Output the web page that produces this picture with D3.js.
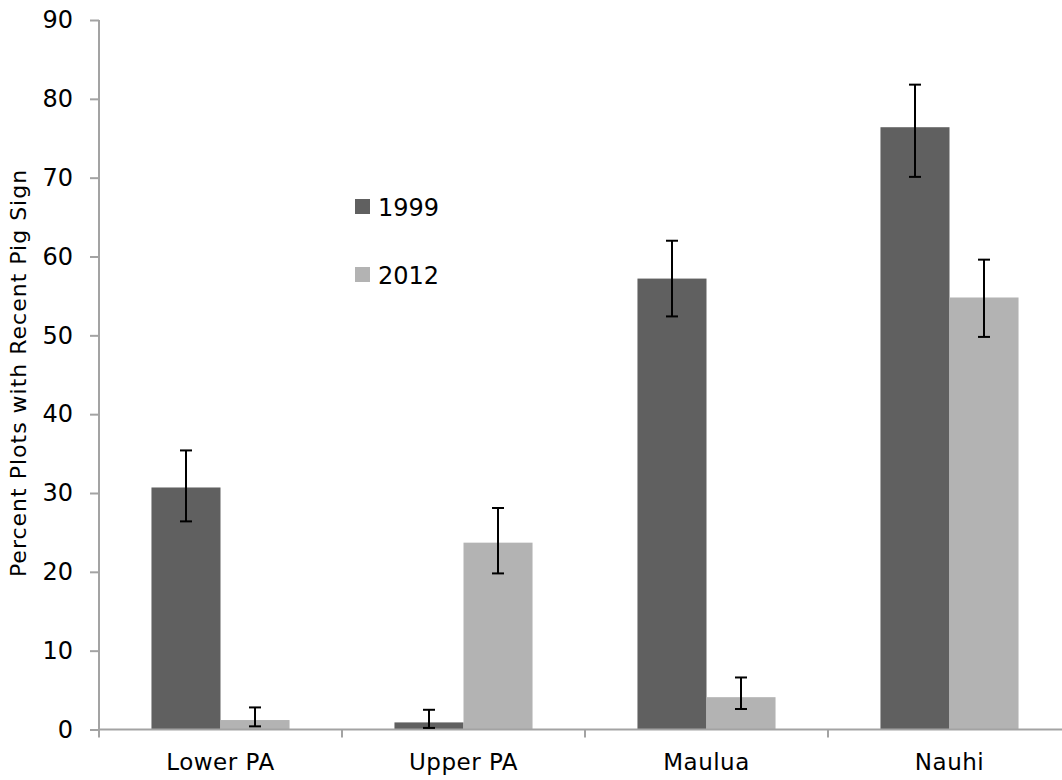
<!DOCTYPE html>
<html>
<head>
<meta charset="utf-8">
<script src="https://cdn.jsdelivr.net/npm/d3@7"></script>
<style>
  html, body { margin: 0; padding: 0; background: #ffffff; }
  svg { display: block; }
  text { font-family: "DejaVu Sans", Verdana, sans-serif; fill: #000; }
</style>
</head>
<body>
<svg id="chart" width="1062" height="780"></svg>
<script>
// Sites and survey years
const sites = ["Lower PA", "Upper PA", "Maulua", "Nauhi"];
const years = ["1999", "2012"];

// Percent of plots with recent pig sign, per year (site order as above)
const values1999 = [30.7, 0.9, 57.2, 76.4];
const values2012 = [1.2, 23.7, 4.1, 54.8];

// Error bar bounds (lower, upper)
const errLow1999  = [26.4, 0.2, 52.4, 70.1];
const errHigh1999 = [35.4, 2.5, 62.0, 81.8];
const errLow2012  = [0.4, 19.8, 2.6, 49.8];
const errHigh2012 = [2.8, 28.1, 6.6, 59.6];

const yTicks = [0, 10, 20, 30, 40, 50, 60, 70, 80, 90];
const yTitle = "Percent Plots with Recent Pig Sign";

const colors = { "1999": "#606060", "2012": "#b3b3b3" };
const axisColor = "#a3a3a3";

const svg = d3.select("#chart");

const plotLeft = 99, plotRight = 1071, plotTop = 20, plotBottom = 729.5;

const x = d3.scaleBand().domain(sites).range([plotLeft, plotRight]).paddingInner(0).paddingOuter(0);
const inner = d3.scaleBand().domain(years).range([0, x.bandwidth()]).paddingInner(0).paddingOuter(0.76);
const y = d3.scaleLinear().domain([0, 90]).range([plotBottom, plotTop]);

const rows = [];
sites.forEach((s, i) => {
  rows.push({ site: s, year: "1999", v: values1999[i], lo: errLow1999[i], hi: errHigh1999[i] });
  rows.push({ site: s, year: "2012", v: values2012[i], lo: errLow2012[i], hi: errHigh2012[i] });
});

// Bars
svg.append("g").selectAll("rect").data(rows).join("rect")
  .attr("x", d => x(d.site) + inner(d.year))
  .attr("width", inner.bandwidth())
  .attr("y", d => y(d.v))
  .attr("height", d => y(0) - y(d.v))
  .attr("fill", d => colors[d.year]);

// Y axis
const yAxis = svg.append("g").attr("transform", `translate(${plotLeft},0)`)
  .call(d3.axisLeft(y).tickValues(yTicks).tickSize(9).tickPadding(17));
yAxis.select(".domain").remove();
yAxis.selectAll(".tick line").attr("stroke", axisColor).attr("stroke-width", 2);
yAxis.selectAll(".tick text").attr("font-size", 24).attr("fill", "#000")
  .attr("font-family", "DejaVu Sans, Verdana, sans-serif");
svg.append("line").attr("x1", plotLeft).attr("x2", plotLeft).attr("y1", plotTop).attr("y2", plotBottom + 8)
  .attr("stroke", axisColor).attr("stroke-width", 2);

// X axis
const xAxis = svg.append("g").attr("transform", `translate(0,${plotBottom})`)
  .call(d3.axisBottom(x).tickSize(0).tickPadding(24));
xAxis.select(".domain").remove();
xAxis.selectAll(".tick line").remove();
xAxis.selectAll(".tick text").attr("font-size", 23).attr("fill", "#000")
  .attr("letter-spacing", 0.5)
  .attr("font-family", "DejaVu Sans, Verdana, sans-serif");
svg.append("line").attr("x1", plotLeft).attr("x2", plotRight).attr("y1", plotBottom).attr("y2", plotBottom)
  .attr("stroke", axisColor).attr("stroke-width", 2);
svg.append("g").selectAll("line").data(sites.slice(1)).join("line")
  .attr("x1", d => x(d))
  .attr("x2", d => x(d))
  .attr("y1", plotBottom).attr("y2", plotBottom + 8)
  .attr("stroke", axisColor).attr("stroke-width", 2);

// Error bars
const eb = svg.append("g").attr("stroke", "#000").attr("stroke-width", 2);
rows.forEach(d => {
  const cx = x(d.site) + inner(d.year) + inner.bandwidth() / 2;
  eb.append("line").attr("x1", cx).attr("x2", cx).attr("y1", y(d.lo)).attr("y2", y(d.hi));
  eb.append("line").attr("x1", cx - 6).attr("x2", cx + 6).attr("y1", y(d.lo)).attr("y2", y(d.lo));
  eb.append("line").attr("x1", cx - 6).attr("x2", cx + 6).attr("y1", y(d.hi)).attr("y2", y(d.hi));
});

// Y axis title
svg.append("text")
  .attr("transform", "translate(26,373) rotate(-90)")
  .attr("text-anchor", "middle")
  .attr("font-size", 22)
  .attr("letter-spacing", 1)
  .text(yTitle);

// Legend
const legend = svg.append("g");
years.forEach((yr, i) => {
  const gy = 199 + i * 68;
  legend.append("rect").attr("x", 355).attr("y", gy).attr("width", 15).attr("height", 15).attr("fill", colors[yr]);
  legend.append("text").attr("x", 378).attr("y", gy + 17).attr("font-size", 24).text(yr);
});
</script>
</body>
</html>
